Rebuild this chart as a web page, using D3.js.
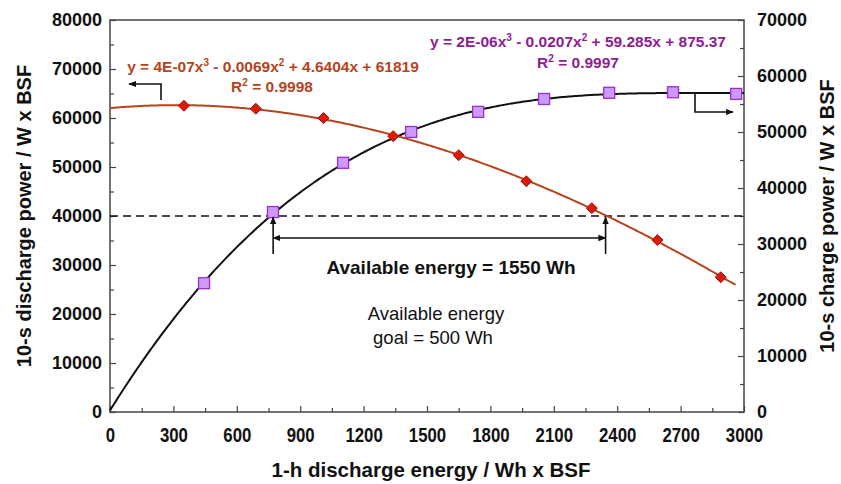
<!DOCTYPE html>
<html>
<head>
<meta charset="utf-8">
<script src="https://cdn.jsdelivr.net/npm/d3@7"></script>
<style>
  body { margin: 0; background: #fff; }
  text { font-family: "Liberation Sans", Arial, sans-serif; }
  .tick text { font-weight: bold; font-size: 18px; fill: #111; }
  .x-axis .tick text { font-size: 20px; }
  .axis-title { font-weight: bold; font-size: 20px; fill: #111; }
  .eq { font-weight: bold; font-size: 15.5px; }
</style>
</head>
<body>
<svg id="chart" width="841" height="484"></svg>
<script>
// discharge power (left axis), red diamonds
const dischargeEnergy = [350, 690, 1010, 1340, 1650, 1970, 2280, 2590, 2890]
const dischargePower = [62500, 61900, 60000, 56300, 52400, 47100, 41600, 35100, 27500]

// charge power (right axis), purple squares
const chargeEnergy = [445, 771, 1103, 1425, 1742, 2054, 2362, 2664, 2963]
const chargePower = [23000, 35700, 44500, 50000, 53600, 55900, 57000, 57100, 56800]

const xTicks = [0, 300, 600, 900, 1200, 1500, 1800, 2100, 2400, 2700, 3000]
const leftTicks = [0, 10000, 20000, 30000, 40000, 50000, 60000, 70000, 80000]
const rightTicks = [0, 10000, 20000, 30000, 40000, 50000, 60000, 70000]

const powerLimit = 40000            // W, left axis
const availableEnergy = [772, 2345] // Wh, where the curves cross the limit

const dischargeEq = "y = 4E-07x^3 - 0.0069x^2 + 4.6404x + 61819"
const dischargeR2 = "0.9998"
const chargeEq = "y = 2E-06x^3 - 0.0207x^2 + 59.285x + 875.37"
const chargeR2 = "0.9997"

const redLine = "#b5441c", redFill = "#dd1a08", redStroke = "#a01010"
const purpleText = "#8e1c92", purpleFill = "#cc99ff", purpleStroke = "#9b30c8"

// least squares cubic, x scaled to thousands
function fitCubic(xs, ys){
  const n = 4
  const A = [], b = []
  for (let i = 0; i < n; i++){ A.push(new Array(n).fill(0)); b.push(0) }
  xs.forEach((xv, k) => {
    const t = xv / 1000
    for (let i = 0; i < n; i++){
      for (let j = 0; j < n; j++) A[i][j] += Math.pow(t, i + j)
      b[i] += ys[k] * Math.pow(t, i)
    }
  })
  for (let c = 0; c < n; c++){
    let p = c
    for (let r = c + 1; r < n; r++) if (Math.abs(A[r][c]) > Math.abs(A[p][c])) p = r
    ;[A[c], A[p]] = [A[p], A[c]]; [b[c], b[p]] = [b[p], b[c]]
    for (let r = c + 1; r < n; r++){
      const f = A[r][c] / A[c][c]
      for (let j = c; j < n; j++) A[r][j] -= f * A[c][j]
      b[r] -= f * b[c]
    }
  }
  const coef = new Array(n).fill(0)
  for (let r = n - 1; r >= 0; r--){
    let s = b[r]
    for (let j = r + 1; j < n; j++) s -= A[r][j] * coef[j]
    coef[r] = s / A[r][r]
  }
  return xv => { const t = xv / 1000; return coef[0] + coef[1]*t + coef[2]*t*t + coef[3]*t*t*t }
}

const svg = d3.select("#chart")
const plotL = 110, plotR = 744, plotT = 20, plotB = 412

const x = d3.scaleLinear().domain([0, 3000]).range([plotL, plotR])
const yL = d3.scaleLinear().domain([0, 80000]).range([plotB, plotT])
const yR = d3.scaleLinear().domain([0, 70000]).range([plotB, plotT])

const defs = svg.append("defs")
defs.append("marker")
  .attr("id", "head")
  .attr("viewBox", "0 0 10 10")
  .attr("refX", 9).attr("refY", 5)
  .attr("markerWidth", 8).attr("markerHeight", 8)
  .attr("markerUnits", "userSpaceOnUse")
  .attr("orient", "auto-start-reverse")
  .append("path")
  .attr("d", "M0,1 L10,5 L0,9 Z")
  .attr("fill", "#111")

// frame
svg.append("rect")
  .attr("x", plotL).attr("y", plotT)
  .attr("width", plotR - plotL).attr("height", plotB - plotT)
  .attr("fill", "none").attr("stroke", "#444").attr("stroke-width", 1.5)

function styleAxis(g){
  g.select(".domain").remove()
  g.selectAll(".tick line").attr("stroke", "#444").attr("stroke-width", 1.2)
}

// x axis (labels drawn condensed)
svg.append("g").attr("class", "x-axis")
  .attr("transform", `translate(0,${plotB})`)
  .call(d3.axisBottom(x).tickValues(xTicks).tickSize(-6).tickPadding(16).tickFormat(d3.format("d")))
  .call(styleAxis)
  .call(g => g.selectAll(".tick text").attr("transform", "scale(0.84,1)"))
svg.append("g")
  .attr("transform", `translate(0,${plotB})`)
  .call(d3.axisBottom(x).tickValues(xTicks.slice(0, -1).map(d => d + 150)).tickSize(-4).tickFormat(""))
  .call(styleAxis)

// left axis
svg.append("g")
  .attr("transform", `translate(${plotL},0)`)
  .call(d3.axisLeft(yL).tickValues(leftTicks).tickSize(-6).tickPadding(8).tickFormat(d3.format("d")))
  .call(styleAxis)
svg.append("g")
  .attr("transform", `translate(${plotL},0)`)
  .call(d3.axisLeft(yL).tickValues(leftTicks.slice(0, -1).map(d => d + 5000)).tickSize(-4).tickFormat(""))
  .call(styleAxis)

// right axis
svg.append("g")
  .attr("transform", `translate(${plotR},0)`)
  .call(d3.axisRight(yR).tickValues(rightTicks).tickSize(-6).tickPadding(13).tickFormat(d3.format("d")))
  .call(styleAxis)
svg.append("g")
  .attr("transform", `translate(${plotR},0)`)
  .call(d3.axisRight(yR).tickValues(rightTicks.slice(0, -1).map(d => d + 5000)).tickSize(-4).tickFormat(""))
  .call(styleAxis)

// axis titles
svg.append("text").attr("class", "axis-title")
  .attr("x", 431).attr("y", 477)
  .attr("text-anchor", "middle")
  .style("font-size", "20.5px")
  .text("1-h discharge energy / Wh x BSF")
svg.append("text").attr("class", "axis-title")
  .attr("transform", `translate(31,${(plotT + plotB) / 2}) rotate(-90)`)
  .attr("text-anchor", "middle")
  .text("10-s discharge power / W x BSF")
svg.append("text").attr("class", "axis-title")
  .attr("transform", `translate(834,${(plotT + plotB) / 2}) rotate(-90)`)
  .attr("text-anchor", "middle")
  .text("10-s charge power / W x BSF")

// power limit
svg.append("line")
  .attr("x1", plotL).attr("x2", plotR)
  .attr("y1", yL(powerLimit)).attr("y2", yL(powerLimit))
  .attr("stroke", "#111").attr("stroke-width", 1.6)
  .attr("stroke-dasharray", "8,5")

// trend lines
const dischargeFit = fitCubic(dischargeEnergy, dischargePower)
const chargeFit = fitCubic(chargeEnergy, chargePower)

svg.append("path")
  .datum(d3.range(0, 3001, 10))
  .attr("fill", "none").attr("stroke", "#111").attr("stroke-width", 2)
  .attr("d", d3.line().x(d => x(d)).y(d => yR(chargeFit(d))))

svg.append("path")
  .datum(d3.range(0, 2961, 10))
  .attr("fill", "none").attr("stroke", redLine).attr("stroke-width", 2)
  .attr("d", d3.line().x(d => x(d)).y(d => yL(dischargeFit(d))))

// markers
svg.append("g").selectAll("rect")
  .data(d3.zip(chargeEnergy, chargePower))
  .join("rect")
  .attr("x", d => x(d[0]) - 5.5).attr("y", d => yR(d[1]) - 5.5)
  .attr("width", 11).attr("height", 11)
  .attr("fill", purpleFill).attr("stroke", purpleStroke).attr("stroke-width", 1.3)

svg.append("g").selectAll("path")
  .data(d3.zip(dischargeEnergy, dischargePower))
  .join("path")
  .attr("transform", d => `translate(${x(d[0])},${yL(d[1])})`)
  .attr("d", "M0,-5.5 L5.5,0 L0,5.5 L-5.5,0 Z")
  .attr("fill", redFill).attr("stroke", redStroke).attr("stroke-width", 1)

// available energy annotation
const [e0, e1] = availableEnergy
const yLimit = yL(powerLimit)
availableEnergy.forEach(e => {
  svg.append("line")
    .attr("x1", x(e)).attr("x2", x(e))
    .attr("y1", yLimit + 38).attr("y2", yLimit + 1)
    .attr("stroke", "#111").attr("stroke-width", 1.6)
    .attr("marker-end", "url(#head)")
})
svg.append("line")
  .attr("x1", x(e0)).attr("x2", x(e1))
  .attr("y1", yLimit + 22).attr("y2", yLimit + 22)
  .attr("stroke", "#111").attr("stroke-width", 1.6)
  .attr("marker-start", "url(#head)").attr("marker-end", "url(#head)")

svg.append("text")
  .attr("x", 451).attr("y", 274)
  .attr("text-anchor", "middle")
  .style("font-weight", "bold").style("font-size", "19px").attr("fill", "#111")
  .text("Available energy = 1550 Wh")

svg.append("text")
  .attr("x", 436).attr("y", 320)
  .attr("text-anchor", "middle")
  .style("font-size", "18.5px").attr("fill", "#111")
  .text("Available energy")
svg.append("text")
  .attr("x", 433).attr("y", 344)
  .attr("text-anchor", "middle")
  .style("font-size", "18.5px").attr("fill", "#111")
  .text("goal = 500 Wh")

// equations with superscripts
function equation(str, cx, cy, color){
  const t = svg.append("text").attr("class", "eq")
    .attr("x", cx).attr("y", cy)
    .attr("text-anchor", "middle").attr("fill", color)
  let shift = 0
  str.split(/\^(\d)/).forEach((part, i) => {
    if (i % 2 === 1){
      t.append("tspan").attr("dy", -6).style("font-size", "10px").text(part)
      shift = 6
    } else {
      t.append("tspan").attr("dy", shift).text(part)
      shift = 0
    }
  })
}
equation(dischargeEq, 273, 72, redLine)
equation("R^2 = " + dischargeR2, 272, 92, redLine)
equation(chargeEq, 578, 47, purpleText)
equation("R^2 = " + chargeR2, 578, 68, purpleText)

// axis pointers
svg.append("path")
  .attr("d", "M161,100 V84 H129")
  .attr("fill", "none").attr("stroke", "#111").attr("stroke-width", 1.6)
  .attr("marker-end", "url(#head)")
svg.append("path")
  .attr("d", "M695,93 V112 H733")
  .attr("fill", "none").attr("stroke", "#111").attr("stroke-width", 1.6)
  .attr("marker-end", "url(#head)")
</script>
</body>
</html>
